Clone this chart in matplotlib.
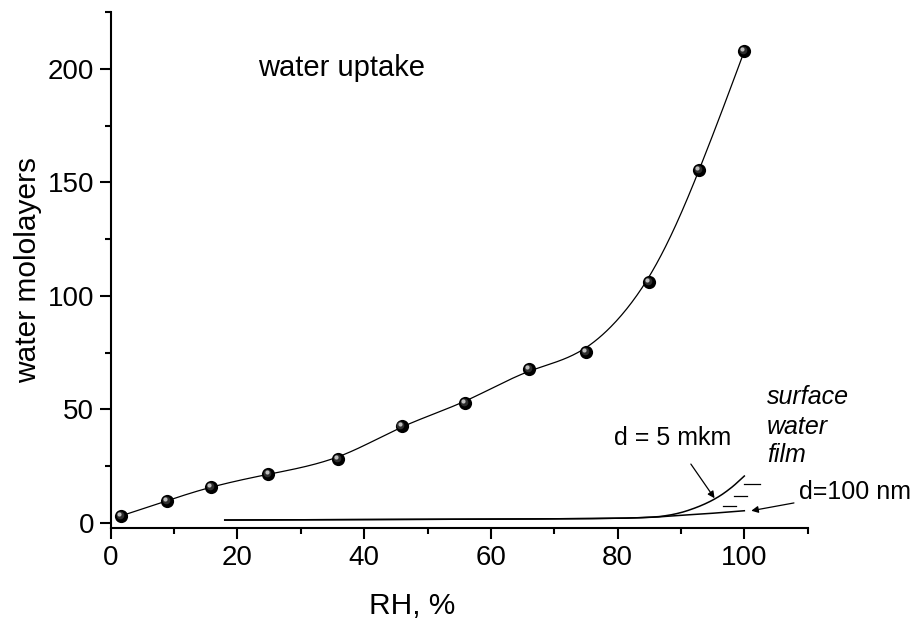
import numpy as np
import matplotlib
matplotlib.use('Agg')
import matplotlib.pyplot as plt
from matplotlib.ticker import MultipleLocator
import matplotlib.transforms as mtransforms

# ---- data ----
rh = [1.6, 8.9, 15.9, 24.9, 35.9, 45.9, 55.9, 66.0, 75.0, 85.0, 92.9, 100.0]
layers = [3.0, 9.7, 15.9, 21.5, 28.0, 42.8, 52.9, 67.8, 75.1, 106.0, 155.3, 207.8]

film5_x = [18, 40, 60, 80, 86, 88, 90, 92, 94, 96, 98, 100]
film5_y = [1.2, 1.4, 1.6, 2.0, 2.6, 3.3, 4.5, 6.3, 8.6, 11.6, 15.6, 20.6]

film100_x = [18, 40, 60, 80, 86, 88, 90, 94, 100]
film100_y = [1.2, 1.4, 1.6, 2.0, 2.5, 2.9, 3.3, 4.0, 5.3]

dash_x0 = [100.0, 98.4, 96.7]
dash_x1 = [102.4, 100.4, 98.7]
dash_y = [17.2, 11.9, 7.5]

x_ticks = [0, 20, 40, 60, 80, 100]
y_ticks = [0, 50, 100, 150, 200]


def bspline_curve(x, y, alpha=0.55, n=60):
    """Uniform cubic B-spline built on the data points; control points are
    pushed partly outward so the curve runs close to the measured points."""
    P = np.column_stack([x, y]).astype(float)
    Q = P.copy()
    S = (P[:-2] + 4 * P[1:-1] + P[2:]) / 6
    Q[1:-1] = P[1:-1] + alpha * (P[1:-1] - S)
    Q = np.vstack([Q[0], Q[0], Q, Q[-1], Q[-1]])
    t = np.linspace(0, 1, n)[:, None]
    b0 = (1 - t) ** 3 / 6
    b1 = (3 * t**3 - 6 * t**2 + 4) / 6
    b2 = (-3 * t**3 + 3 * t**2 + 3 * t + 1) / 6
    b3 = t**3 / 6
    segs = [b0 * Q[i] + b1 * Q[i + 1] + b2 * Q[i + 2] + b3 * Q[i + 3]
            for i in range(len(Q) - 3)]
    C = np.vstack(segs)
    return C[:, 0], C[:, 1]


def pchip(x, y, n=500):
    x = np.asarray(x, float); y = np.asarray(y, float)
    m = len(x); h = np.diff(x); d = np.diff(y) / h
    s = np.zeros(m)
    s[0], s[-1] = d[0], d[-1]
    for k in range(1, m - 1):
        if d[k - 1] * d[k] <= 0:
            s[k] = 0
        else:
            w1 = 2 * h[k] + h[k - 1]; w2 = h[k] + 2 * h[k - 1]
            s[k] = (w1 + w2) / (w1 / d[k - 1] + w2 / d[k])
    t = np.linspace(x[0], x[-1], n)
    idx = np.clip(np.searchsorted(x, t) - 1, 0, m - 2)
    hh = h[idx]; u = (t - x[idx]) / hh
    h00 = 2 * u**3 - 3 * u**2 + 1; h10 = u**3 - 2 * u**2 + u
    h01 = -2 * u**3 + 3 * u**2; h11 = u**3 - u**2
    return t, h00 * y[idx] + h10 * hh * s[idx] + h01 * y[idx + 1] + h11 * hh * s[idx + 1]


plt.rcParams['font.family'] = ['Liberation Sans', 'DejaVu Sans']
fig = plt.figure(figsize=(9.17, 6.25), dpi=100)
ax = fig.add_axes([0.1207, 0.1552, 0.7601, 0.8256])

# fitted curve (B-spline on the measured points)
tx, ty = bspline_curve(rh, layers)
ax.plot(tx, ty, color='black', lw=0.9, zorder=2)

# sphere-like markers
ax.plot(rh, layers, 'o', ms=9.5, mfc='black', mec='black', mew=0, zorder=3, clip_on=False)
off1 = mtransforms.offset_copy(ax.transData, fig=fig, x=-0.8, y=0.8, units='points')
ax.plot(rh, layers, 'o', ms=5.5, mfc='#2e2e2e', mew=0, zorder=4, clip_on=False, transform=off1)
off2 = mtransforms.offset_copy(ax.transData, fig=fig, x=-1.4, y=1.4, units='points')
ax.plot(rh, layers, 'o', ms=3.0, mfc='#bdbdbd', mew=0, zorder=5, clip_on=False, transform=off2)

# surface film curves
fx, fy = pchip(film5_x, film5_y)
ax.plot(fx, fy, color='black', lw=1.1, zorder=2)
gx, gy = pchip(film100_x, film100_y)
ax.plot(gx, gy, color='black', lw=1.1, zorder=2)
for a, b, c in zip(dash_x0, dash_x1, dash_y):
    ax.plot([a, b], [c, c], color='black', lw=0.9, clip_on=False)

# axes styling
ax.set_xlim(0, 110)
ax.set_ylim(-2.3, 225)
ax.spines['top'].set_visible(False)
ax.spines['right'].set_visible(False)
for sp in ('left', 'bottom'):
    ax.spines[sp].set_linewidth(1.5)
ax.set_xticks(x_ticks)
ax.set_yticks(y_ticks)
ax.xaxis.set_minor_locator(MultipleLocator(10))
ax.yaxis.set_minor_locator(MultipleLocator(25))
ax.tick_params(which='major', direction='out', length=8, width=1.5, labelsize=20, pad=4)
ax.tick_params(which='minor', direction='out', length=4.5, width=1.5)

ax.set_xlabel('RH, %', fontsize=21.5)
ax.xaxis.set_label_coords(0.432, -0.125)
ax.set_ylabel('water mololayers', fontsize=21.5)
ax.yaxis.set_label_coords(-0.099, 0.5)

ax.text(23.2, 200.5, 'water uptake', fontsize=21, va='center', ha='left')
for label, yy in (('surface', 55.6), ('water', 42.3), ('film', 29.9)):
    ax.text(103.6, yy, label, fontsize=18, style='italic', va='center', ha='left')

ax.annotate('d = 5 mkm', xy=(95.3, 10.8), xytext=(88.7, 37.4), fontsize=18,
            ha='center', va='center',
            arrowprops=dict(arrowstyle='-|>', color='black', lw=0.9,
                            mutation_scale=10, shrinkA=10, shrinkB=0))
ax.annotate('d=100 nm', xy=(101.1, 5.3), xytext=(108.7, 13.7), fontsize=18,
            ha='left', va='center', annotation_clip=False,
            arrowprops=dict(arrowstyle='-|>', color='black', lw=0.9,
                            mutation_scale=10, shrinkA=2, shrinkB=0))

fig.savefig('out.png', dpi=100)
